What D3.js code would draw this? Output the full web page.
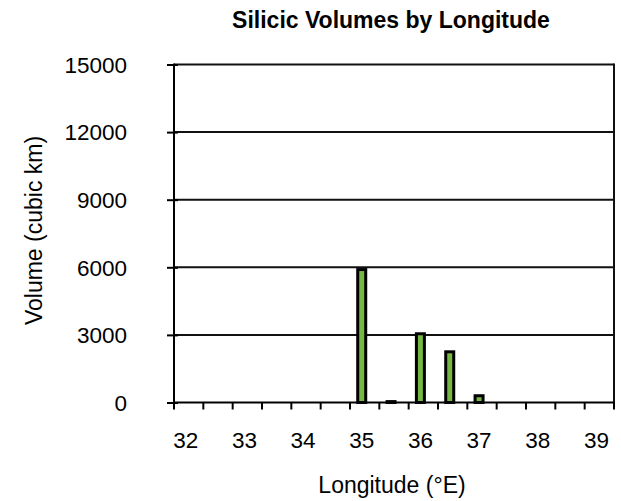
<!DOCTYPE html>
<html>
<head>
<meta charset="utf-8">
<script src="https://cdn.jsdelivr.net/npm/d3@7/dist/d3.min.js"></script>
<style>
  html, body { margin: 0; padding: 0; background: #fff; }
  svg { display: block; }
  text { font-family: "Liberation Sans", Arial, Helvetica, sans-serif; fill: #000; }
</style>
</head>
<body>
<svg id="chart" width="621" height="501"></svg>
<script>
const categories = ["32","32.5","33","33.5","34","34.5","35","35.5","36","36.5","37","37.5","38","38.5","39"];
const volumes = [0,0,0,0,0,0,5900,40,3050,2250,300,0,0,0,0];
const yTicks = [0,3000,6000,9000,12000,15000];
const xLabels = ["32","33","34","35","36","37","38","39"];

const svg = d3.select("#chart");
const pL = 174, pR = 614, pT = 64.5, pB = 402.5;

const x = d3.scaleBand().domain(categories).range([pL, pR]).paddingInner(0).paddingOuter(0);
const y = d3.scaleLinear().domain([0, 15000]).range([pB, pT]);

// title
svg.append("text").attr("x", 391).attr("y", 28).attr("text-anchor", "middle")
  .style("font-size", "23px").style("font-weight", "bold").text("Silicic Volumes by Longitude");

// gridlines
svg.append("g").selectAll("line").data(yTicks.filter(d => d > 0)).join("line")
  .attr("x1", pL).attr("x2", pR).attr("y1", d => y(d)).attr("y2", d => y(d))
  .attr("stroke", "#111").attr("stroke-width", 2);

// right border
svg.append("line").attr("x1", pR).attr("x2", pR).attr("y1", pT - 1).attr("y2", pB)
  .attr("stroke", "#111").attr("stroke-width", 2);

// bars
const bw = x.bandwidth();
svg.append("g").selectAll("rect").data(categories.map((c, i) => ({c, v: volumes[i]})).filter(d => d.v > 0)).join("rect")
  .attr("x", d => x(d.c) + bw * 0.4 - 4)
  .attr("width", 8)
  .attr("y", d => y(d.v))
  .attr("height", d => y(0) - y(d.v))
  .attr("fill", "#77b843")
  .attr("stroke", "#000")
  .attr("stroke-width", 3);

// y axis
const yAxis = d3.axisLeft(y).tickValues(yTicks).tickSize(0).tickPadding(0).tickFormat(d3.format("d"));
const gy = svg.append("g").attr("transform", `translate(${pL},0)`).call(yAxis);
gy.select(".domain").remove();
gy.selectAll(".tick text").attr("x", -47).attr("dy", "0.35em").style("font-size", "22.5px").style("font-family", null);
gy.selectAll(".tick").append("line").attr("x1", -7).attr("x2", 4).attr("stroke", "#000").attr("stroke-width", 2);
svg.append("line").attr("x1", pL).attr("x2", pL).attr("y1", pT - 1).attr("y2", pB + 1)
  .attr("stroke", "#000").attr("stroke-width", 2);

// x axis
const xAxis = d3.axisBottom(x).tickSize(0).tickFormat(d => xLabels.includes(d) ? d : "");
const gx = svg.append("g").attr("transform", `translate(0,${pB})`).call(xAxis);
gx.select(".domain").remove();
gx.selectAll(".tick text").attr("x", -bw * 0.1).attr("y", 45.5).attr("dy", 0).style("font-size", "22.5px").style("font-family", null);
// boundary ticks
const bounds = categories.map(c => x(c)).concat([pR]);
svg.append("g").selectAll("line").data(bounds).join("line")
  .attr("x1", d => d).attr("x2", d => d).attr("y1", pB).attr("y2", pB + 7)
  .attr("stroke", "#000").attr("stroke-width", 2);
svg.append("line").attr("x1", pL - 1).attr("x2", pR + 1).attr("y1", pB).attr("y2", pB)
  .attr("stroke", "#000").attr("stroke-width", 2);

// axis titles
svg.append("text").attr("x", 392).attr("y", 493).attr("text-anchor", "middle")
  .style("font-size", "23px").text("Longitude (°E)");
svg.append("text").attr("transform", `translate(41.5,230.5) rotate(-90)`).attr("text-anchor", "middle")
  .style("font-size", "23px").text("Volume (cubic km)");
</script>
</body>
</html>
